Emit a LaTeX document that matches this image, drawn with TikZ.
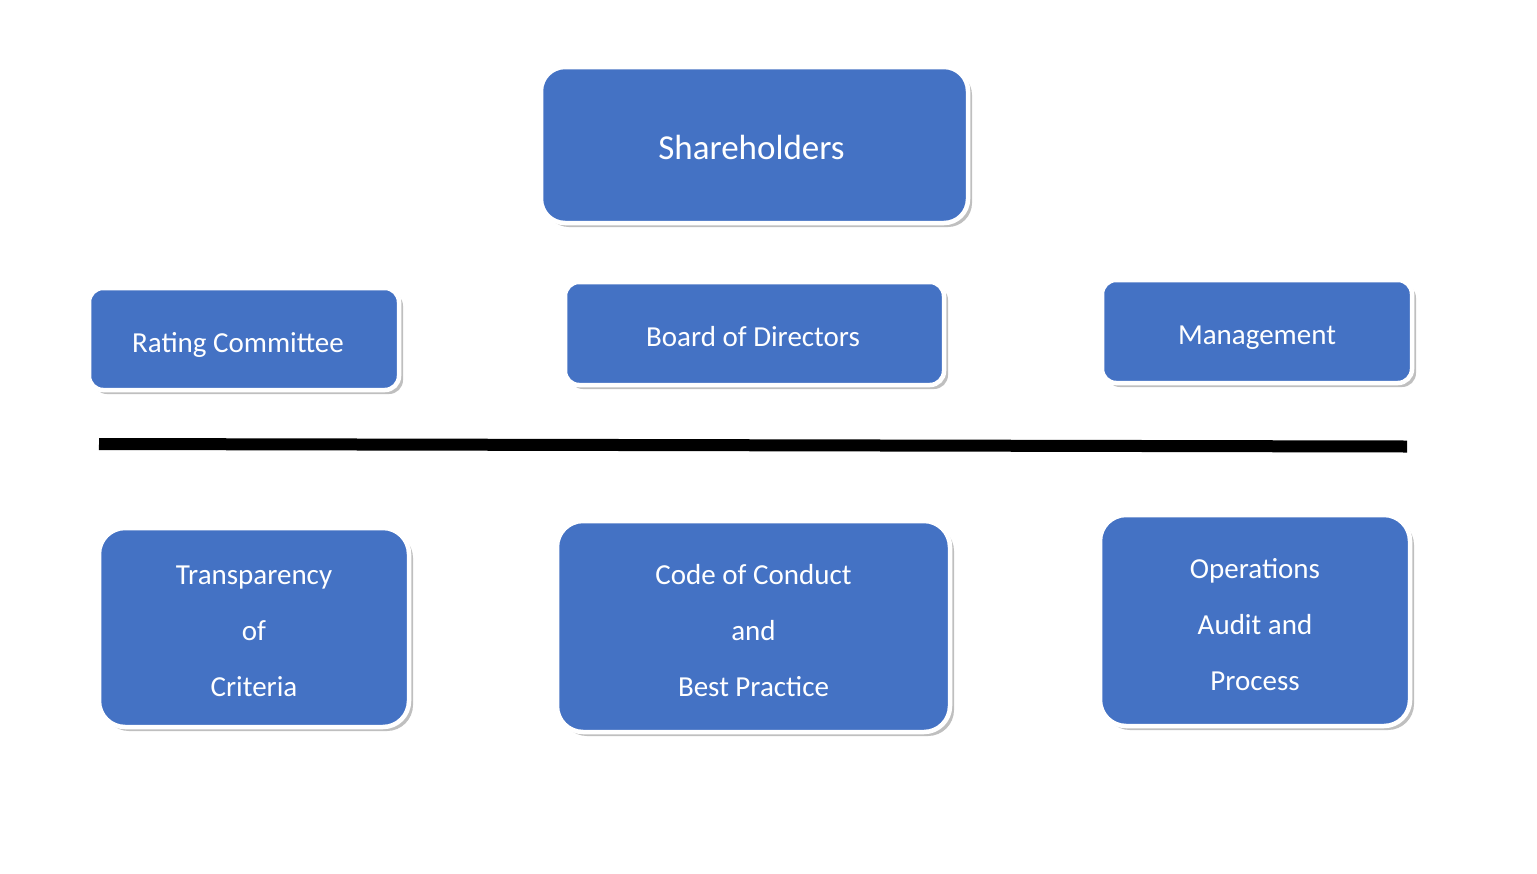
\documentclass[tikz,border=0pt]{standalone}
\usepackage{fontspec}
\setmainfont{Carlito}
\usetikzlibrary{shadows}
\definecolor{boxblue}{HTML}{4472C4}
\newcommand{\dropby}[2]{\raisebox{-#1}[\height][\depth]{#2}}
\tikzset{
  card/.style={draw=white, line width=4.5pt, fill=boxblue, text=white,
    align=center, inner sep=0pt,
    drop shadow={shadow xshift=4pt, shadow yshift=-4pt, opacity=0.45, fill=black!55}},
  smalltext/.style={font=\fontsize{29}{56}\selectfont},
  bigtext/.style={font=\fontsize{35}{40}\selectfont}
}
\begin{document}
\begin{tikzpicture}[x=1pt,y=-1pt]
\useasboundingbox (0,0) rectangle (1537,873);
\fill[white] (0,0) rectangle (1537,873);
\node[card, bigtext, rounded corners=24pt, minimum width=427pt, minimum height=156pt] (sh) at (754.5,145) {\dropby{2pt}{Shareholders}\hspace{6pt}};
\node[card, smalltext, rounded corners=14pt, minimum width=310pt, minimum height=102pt] (rc) at (244,339) {\dropby{6pt}{Rating Committee}\hspace{12pt}};
\node[card, smalltext, rounded corners=14pt, minimum width=379pt, minimum height=103pt] (bd) at (754.5,333.5) {\dropby{3pt}{Board of Directors}\hspace{3pt}};
\node[card, smalltext, rounded corners=14pt, minimum width=310pt, minimum height=103pt] (mg) at (1257,331.5) {\dropby{6pt}{Management}};
\coordinate (la) at (99,444);
\coordinate (lb) at (1407,446.5);
\draw[line width=12pt] (la) -- (lb);
\node[card, smalltext, rounded corners=26pt, minimum width=310pt, minimum height=199pt] (tr) at (254,627.5) {\dropby{2pt}{\begin{tabular}{@{}c@{}}Transparency\\of\\Criteria\end{tabular}}};
\node[card, smalltext, rounded corners=26pt, minimum width=393pt, minimum height=211pt] (cc) at (753.5,626.5) {\dropby{3pt}{\begin{tabular}{@{}c@{}}Code of Conduct\\and\\Best Practice\end{tabular}}};
\node[card, smalltext, rounded corners=26pt, minimum width=310pt, minimum height=211pt] (op) at (1255,620.5) {\dropby{3pt}{\begin{tabular}{@{}c@{}}Operations\\Audit and\\Process\end{tabular}}};
\end{tikzpicture}
\end{document}
